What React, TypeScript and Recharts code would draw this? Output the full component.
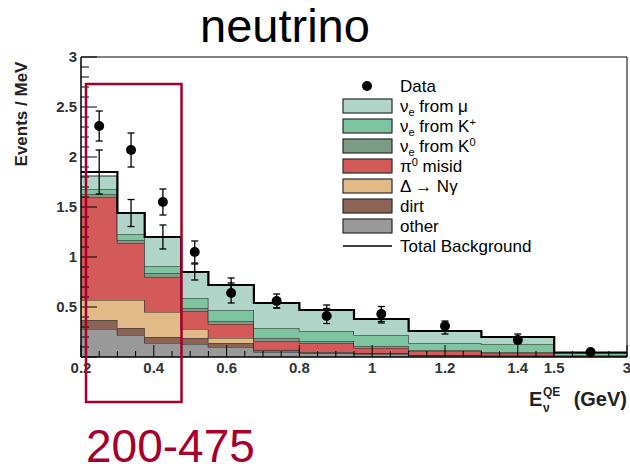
import React from 'react';
import { ComposedChart, Area, Line, Scatter, XAxis, YAxis, ErrorBar, ReferenceArea } from 'recharts';

// Bin edges in GeV (MiniBooNE E_nu^QE binning)
const binEdges = [0.2, 0.3, 0.375, 0.475, 0.55, 0.675, 0.8, 0.95, 1.1, 1.3, 1.5, 3.0];
// Background components, events / MeV per bin (stacked bottom -> top)
const other = [0.28, 0.22, 0.14, 0.13, 0.10, 0.05, 0.035, 0.03, 0.015, 0.01, 0.005];
const dirt = [0.09, 0.07, 0.06, 0.06, 0.04, 0.02, 0.01, 0.01, 0.005, 0.005, 0.0];
const deltaNg = [0.20, 0.28, 0.25, 0.09, 0.05, 0.01, 0.005, 0.0, 0.0, 0.0, 0.0];
const pi0 = [1.03, 0.57, 0.35, 0.18, 0.14, 0.08, 0.09, 0.05, 0.035, 0.025, 0.005];
const k0 = [0.03, 0.03, 0.04, 0.03, 0.03, 0.03, 0.02, 0.02, 0.015, 0.01, 0.005];
const kplus = [0.05, 0.06, 0.07, 0.10, 0.11, 0.10, 0.10, 0.11, 0.07, 0.08, 0.025];
const muon = [0.13, 0.21, 0.29, 0.26, 0.25, 0.25, 0.21, 0.16, 0.12, 0.07, 0.005];
const totalBg = [1.85, 1.44, 1.20, 0.85, 0.72, 0.54, 0.47, 0.38, 0.26, 0.20, 0.045];
const totalErr = [0.22, 0.135, 0.12, 0.08, 0.07, 0.05, 0.05, 0.04, 0.03, 0.03, 0.01];
const dataVals = [2.31, 2.07, 1.55, 1.05, 0.64, 0.56, 0.41, 0.43, 0.31, 0.17, 0.05];
const dataErr = [0.15, 0.17, 0.13, 0.11, 0.10, 0.07, 0.075, 0.075, 0.05, 0.035, 0.02];

// Axis tick labels (energies in GeV)
const xMajorE = [0.2, 0.4, 0.6, 0.8, 1.0, 1.2, 1.4, 1.5, 3.0];
const xMajorLabels = ['0.2', '0.4', '0.6', '0.8', '1', '1.2', '1.4', '1.5', '3'];
const xMinorE = [0.25, 0.3, 0.35, 0.45, 0.5, 0.55, 0.65, 0.7, 0.75, 0.85, 0.9, 0.95, 1.05, 1.1, 1.15, 1.25, 1.3, 1.35, 1.45, 1.875, 2.25, 2.625];
const yMajor = [0, 0.5, 1, 1.5, 2, 2.5, 3];
const yMajorLabels = ['', '0.5', '1', '1.5', '2', '2.5', '3'];

// broken x axis: 0.2-1.5 linear, 1.5-3.0 compressed into 0.2 axis units
const BREAK = 1.5;
const TAIL = 0.2;
const toAxis = (e: number) => (e <= BREAK ? e : BREAK + ((e - BREAK) * TAIL) / (3.0 - BREAK));
const key = (v: number) => v.toFixed(4);

const xLabelMap = new Map<string, string>();
xMajorE.forEach((e, i) => xLabelMap.set(key(toAxis(e)), xMajorLabels[i]));
const xTicks = [...xMajorE, ...xMinorE].map(toAxis).sort((a, b) => a - b);

const yLabelMap = new Map<string, string>();
yMajor.forEach((v, i) => yLabelMap.set(key(v), yMajorLabels[i]));
const yTicks: number[] = [];
for (let i = 0; i <= 30; i++) yTicks.push(i / 10);

const histData = binEdges.map((edge, i) => {
  const j = Math.min(i, other.length - 1);
  return {
    x: toAxis(edge),
    other: other[j],
    dirt: dirt[j],
    deltaNg: deltaNg[j],
    pi0: pi0[j],
    k0: k0[j],
    kplus: kplus[j],
    muon: muon[j],
    total: totalBg[j],
  };
});

const centers = binEdges.slice(0, -1).map((e, i) => (toAxis(e) + toAxis(binEdges[i + 1])) / 2);
const pointData = centers.map((c, i) => ({ x: c, y: dataVals[i], err: dataErr[i] }));
const bgErrData = centers.map((c, i) => ({ x: c, y: totalBg[i], err: totalErr[i] }));

const COLORS = {
  muon: '#b0d4c7',
  kplus: '#7ec4a0',
  k0: '#7a9c86',
  pi0: '#d45a5a',
  deltaNg: '#e2ba88',
  dirt: '#8c6455',
  other: '#999999',
};
const OUTLINE = '#2a2a2a';
const FONT = '"Liberation Sans", Arial, Helvetica, sans-serif';
const RED = '#a6002a';

const XTick = (props: any) => {
  const { x, y, payload } = props;
  const label = xLabelMap.get(key(payload.value));
  const major = label !== undefined;
  return (
    <g>
      <line x1={x} x2={x} y1={y} y2={y - (major ? 12 : 6)} stroke="#000" strokeWidth={1} />
      {major && (
        <text x={x} y={y + 16} textAnchor="middle" fontFamily={FONT} fontWeight="bold" fontSize={15} fill="#333">
          {label}
        </text>
      )}
    </g>
  );
};

const YTick = (props: any) => {
  const { x, y, payload } = props;
  const label = yLabelMap.get(key(payload.value));
  const major = label !== undefined;
  return (
    <g>
      <line x1={x} x2={x + (major ? 16 : 8)} y1={y} y2={y} stroke="#000" strokeWidth={1} />
      {major && label !== '' && (
        <text x={x - 4} y={y + 5} textAnchor="end" fontFamily={FONT} fontWeight="bold" fontSize={15} fill="#333">
          {label}
        </text>
      )}
    </g>
  );
};

const Dot = (props: any) => <circle cx={props.cx} cy={props.cy} r={5} fill="#000" />;
const NoDot = () => <g />;

const legendRows: { label: React.ReactNode; color?: string; kind: 'dot' | 'box' | 'line' }[] = [
  { label: 'Data', kind: 'dot' },
  {
    label: (
      <>
        ν<tspan fontSize={11} dy={4}>e</tspan>
        <tspan dy={-4}> from μ</tspan>
      </>
    ),
    color: COLORS.muon,
    kind: 'box',
  },
  {
    label: (
      <>
        ν<tspan fontSize={11} dy={4}>e</tspan>
        <tspan dy={-4}> from K</tspan>
        <tspan fontSize={11} dy={-6}>+</tspan>
      </>
    ),
    color: COLORS.kplus,
    kind: 'box',
  },
  {
    label: (
      <>
        ν<tspan fontSize={11} dy={4}>e</tspan>
        <tspan dy={-4}> from K</tspan>
        <tspan fontSize={11} dy={-6}>0</tspan>
      </>
    ),
    color: COLORS.k0,
    kind: 'box',
  },
  {
    label: (
      <>
        π<tspan fontSize={11} dy={-6}>0</tspan>
        <tspan dy={6}> misid</tspan>
      </>
    ),
    color: COLORS.pi0,
    kind: 'box',
  },
  { label: 'Δ → Nγ', color: COLORS.deltaNg, kind: 'box' },
  { label: 'dirt', color: COLORS.dirt, kind: 'box' },
  { label: 'other', color: COLORS.other, kind: 'box' },
  { label: 'Total Background', kind: 'line' },
];

export default function App() {
  return (
    <div style={{ position: 'absolute', left: 0, top: 0, width: 630, height: 471, background: '#fff' }}>
      <ComposedChart
        width={630}
        height={471}
        data={histData}
        margin={{ top: 57, right: 3, bottom: 84, left: 41 }}
      >
        <Area type="stepAfter" dataKey="other" stackId="bg" fill={COLORS.other} fillOpacity={1} stroke={OUTLINE} strokeWidth={1.2} isAnimationActive={false} />
        <Area type="stepAfter" dataKey="dirt" stackId="bg" fill={COLORS.dirt} fillOpacity={1} stroke={OUTLINE} strokeWidth={1.2} isAnimationActive={false} />
        <Area type="stepAfter" dataKey="deltaNg" stackId="bg" fill={COLORS.deltaNg} fillOpacity={1} stroke={OUTLINE} strokeWidth={1.2} isAnimationActive={false} />
        <Area type="stepAfter" dataKey="pi0" stackId="bg" fill={COLORS.pi0} fillOpacity={1} stroke={OUTLINE} strokeWidth={1.2} isAnimationActive={false} />
        <Area type="stepAfter" dataKey="k0" stackId="bg" fill={COLORS.k0} fillOpacity={1} stroke={OUTLINE} strokeWidth={1.2} isAnimationActive={false} />
        <Area type="stepAfter" dataKey="kplus" stackId="bg" fill={COLORS.kplus} fillOpacity={1} stroke={OUTLINE} strokeWidth={1.2} isAnimationActive={false} />
        <Area type="stepAfter" dataKey="muon" stackId="bg" fill={COLORS.muon} fillOpacity={1} stroke={OUTLINE} strokeWidth={1.2} isAnimationActive={false} />
        <Line type="stepAfter" dataKey="total" stroke="#000" strokeWidth={2.2} dot={false} activeDot={false} isAnimationActive={false} />
        <Scatter data={bgErrData} dataKey="y" shape={NoDot} isAnimationActive={false}>
          <ErrorBar dataKey="err" direction="y" width={3.5} stroke="#000" strokeWidth={1.3} />
        </Scatter>
        <Scatter data={pointData} dataKey="y" shape={Dot} isAnimationActive={false}>
          <ErrorBar dataKey="err" direction="y" width={3.5} stroke="#000" strokeWidth={1.3} />
        </Scatter>
        <ReferenceArea x1={0.2} x2={1.7} y1={0} y2={3} fill="none" stroke="#000" strokeWidth={1} />
        <XAxis
          dataKey="x"
          type="number"
          domain={[0.2, 1.7]}
          ticks={xTicks}
          interval={0}
          height={30}
          tickSize={0}
          tickMargin={0}
          tickLine={false}
          axisLine={{ stroke: '#000' }}
          tick={<XTick />}
          allowDataOverflow
        />
        <YAxis
          type="number"
          domain={[0, 3]}
          ticks={yTicks}
          interval={0}
          width={40}
          tickSize={0}
          tickMargin={0}
          tickLine={false}
          axisLine={{ stroke: '#000' }}
          tick={<YTick />}
          allowDataOverflow
        />
      </ComposedChart>
      <svg
        width={630}
        height={471}
        style={{ position: 'absolute', left: 0, top: 0, pointerEvents: 'none' }}
      >
        <text x={200} y={42} fontFamily={FONT} fontSize={47} fill="#000">
          neutrino
        </text>
        <text
          transform="translate(27,114) rotate(-90)"
          textAnchor="middle"
          fontFamily={FONT}
          fontWeight="bold"
          fontSize={17}
          fill="#222"
        >
          Events / MeV
        </text>
        <g fontFamily={FONT} fontWeight="bold" fill="#222">
          <text x={529} y={406} fontSize={20}>E</text>
          <text x={543} y={396} fontSize={12}>QE</text>
          <text x={543} y={412} fontSize={12}>ν</text>
          <text x={627} y={406} fontSize={20} textAnchor="end">(GeV)</text>
        </g>
        <g fontFamily={FONT} fontSize={17} fill="#000">
          {legendRows.map((r, i) => {
            const cy = 86 + i * 20;
            return (
              <g key={i}>
                {r.kind === 'dot' && <circle cx={367} cy={cy} r={5} fill="#000" />}
                {r.kind === 'box' && (
                  <rect x={343} y={cy - 7} width={49} height={14} fill={r.color} stroke={OUTLINE} strokeWidth={1.2} />
                )}
                {r.kind === 'line' && <line x1={343} x2={392} y1={cy} y2={cy} stroke="#000" strokeWidth={1.5} />}
                <text x={400} y={cy + 6}>{r.label}</text>
              </g>
            );
          })}
        </g>
        <rect x={86} y={84} width={95.5} height={318} fill="none" stroke={RED} strokeWidth={2.5} />
        <text x={86} y={462} fontFamily={FONT} fontSize={46} fill={RED}>
          200-475
        </text>
      </svg>
    </div>
  );
}
